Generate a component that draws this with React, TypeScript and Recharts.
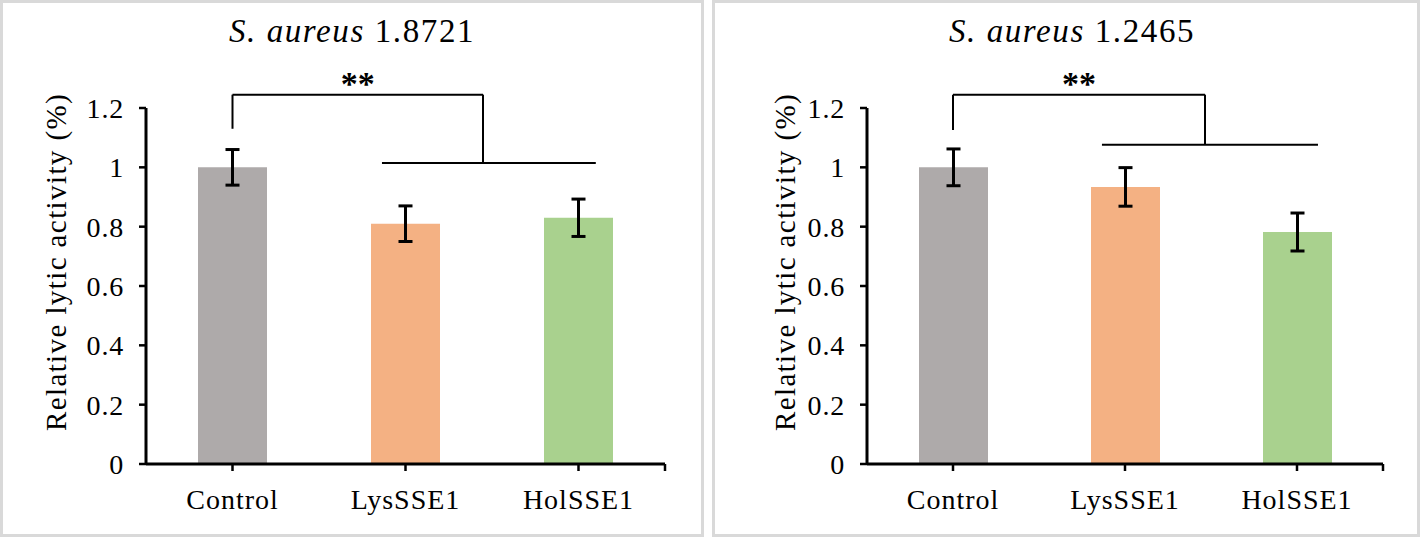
import { BarChart, Bar, XAxis, YAxis, Cell, ErrorBar, ReferenceLine } from "recharts";

const categories = ["Control", "LysSSE1", "HolSSE1"];
const colors = ["#AEAAAA", "#F4B183", "#A9D18E"];
const yTicks = [0, 0.2, 0.4, 0.6, 0.8, 1, 1.2];

const leftValues = [1.0, 0.81, 0.83];
const leftErrors = [0.06, 0.06, 0.063];
const rightValues = [1.0, 0.934, 0.782];
const rightErrors = [0.062, 0.065, 0.064];

// significance brackets, in data units [x1, y1, x2, y2]
const leftBracket = [
  [0.5, 1.13, 0.5, 1.245],
  [0.5, 1.245, 1.948, 1.245],
  [1.948, 1.245, 1.948, 1.015],
  [1.364, 1.015, 2.6, 1.015],
];
const rightBracket = [
  [0.5, 1.126, 0.5, 1.245],
  [0.5, 1.245, 1.965, 1.245],
  [1.965, 1.245, 1.965, 1.076],
  [1.366, 1.076, 2.622, 1.076],
];

const FONT = "Liberation Serif, DejaVu Serif, serif";

type PanelProps = {
  left: number;
  width: number;
  strain: string;
  titleX: number;
  values: number[];
  errors: number[];
  bracket: number[][];
  axisW: number;
  rightM: number;
  labelX: number;
};

function Panel(p: PanelProps) {
  const data = categories.map((c, i) => ({ name: c, x: i + 0.5, v: p.values[i], err: p.errors[i] }));
  return (
    <>
      <div
        style={{
          position: "absolute",
          left: p.left,
          top: 0,
          width: p.width,
          height: 537,
          border: "3px solid #d9d9d9",
          boxSizing: "border-box",
        }}
      />
      <div
        style={{
          position: "absolute",
          left: p.titleX - 200,
          width: 400,
          top: 15,
          textAlign: "center",
          fontFamily: FONT,
          fontSize: 33,
          lineHeight: "33px",
          letterSpacing: 1.6,
          color: "#000",
          whiteSpace: "nowrap",
        }}
      >
        <i>S. aureus</i> {p.strain}
      </div>
      <div style={{ position: "absolute", left: p.left, top: 0 }}>
        <BarChart
          width={p.width}
          height={537}
          data={data}
          margin={{ top: 108, right: p.rightM, left: 0, bottom: 0 }}
          style={{ fontFamily: FONT }}
        >
          <XAxis
            type="number"
            dataKey="x"
            domain={[0, 3]}
            ticks={[0.5, 1.5, 2.5, 3]}
            tickFormatter={(v: number) => (v < 3 ? categories[Math.floor(v)] : "")}
            height={73}
            axisLine={{ stroke: "#000", strokeWidth: 3 }}
            tickLine={{ stroke: "#000", strokeWidth: 2.5 }}
            tickSize={7}
            tickMargin={18}
            tick={{ fill: "#000", fontSize: 28, fontFamily: FONT, letterSpacing: 1 }}
          />
          <YAxis
            type="number"
            domain={[0, 1.2]}
            ticks={yTicks}
            width={p.axisW}
            axisLine={{ stroke: "#000", strokeWidth: 3 }}
            tickLine={{ stroke: "#000", strokeWidth: 2.5 }}
            tickSize={7}
            tickMargin={15}
            tick={{ fill: "#000", fontSize: 28, fontFamily: FONT, letterSpacing: 0.8 }}
            label={{
              content: () => (
                <text
                  x={p.labelX}
                  y={262}
                  transform={`rotate(-90 ${p.labelX} 262)`}
                  textAnchor="middle"
                  dominantBaseline="central"
                  fontFamily={FONT}
                  fontSize={29}
                  letterSpacing={1.4}
                  fill="#000"
                >
                  Relative lytic activity (%)
                </text>
              ),
            }}
          />
          <Bar dataKey="v" barSize={69} isAnimationActive={false}>
            {data.map((_, i) => (
              <Cell key={i} fill={colors[i]} />
            ))}
            <ErrorBar dataKey="err" direction="y" width={7} stroke="#000" strokeWidth={3} isAnimationActive={false} />
          </Bar>
          {p.bracket.map((s, i) => (
            <ReferenceLine
              key={i}
              segment={[
                { x: s[0], y: s[1] },
                { x: s[2], y: s[3] },
              ]}
              stroke="#000"
              strokeWidth={2}
              ifOverflow="visible"
              label={
                i === 1
                  ? { value: "**", position: "top", offset: 0, fill: "#000", fontSize: 34, fontWeight: "bold", fontFamily: FONT }
                  : undefined
              }
            />
          ))}
        </BarChart>
      </div>
    </>
  );
}

export default function App() {
  return (
    <div style={{ position: "absolute", left: 0, top: 0, width: 1420, height: 537, background: "#fff" }}>
      <Panel
        left={0}
        width={704}
        strain="1.8721"
        titleX={352}
        values={leftValues}
        errors={leftErrors}
        bracket={leftBracket}
        axisW={146}
        rightM={39}
        labelX={56}
      />
      <Panel
        left={712}
        width={708}
        strain="1.2465"
        titleX={1072}
        values={rightValues}
        errors={rightErrors}
        bracket={rightBracket}
        axisW={155}
        rightM={37}
        labelX={73}
      />
    </div>
  );
}
